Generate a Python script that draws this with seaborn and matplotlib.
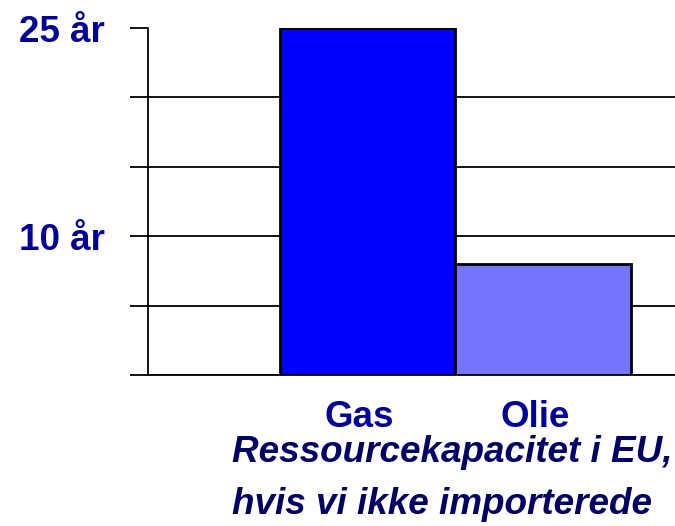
import pandas as pd
import numpy as np
import matplotlib
matplotlib.use("Agg")
import matplotlib.pyplot as plt
import matplotlib.transforms as mtransforms
import seaborn as sns

# Data
kategorier = ["Gas", "Olie"]
aar = [25, 8]
farver = ["#0000FF", "#7575FF"]
y_ticks = [0, 5, 10, 15, 20, 25]
y_labels = ["", "", "10 år", "", "", "25 år"]
undertekst = ["Ressourcekapacitet i EU,", "hvis vi ikke importerede"]

df = pd.DataFrame({"Kategori": kategorier, "Aar": aar})

sns.set_style("white")
plt.rcParams["font.family"] = ["Liberation Sans", "DejaVu Sans"]

fig = plt.figure(figsize=(6.75, 5.26), dpi=100)
ax = fig.add_axes([148 / 675, 1 - 375 / 526, 1 - 148 / 675, (375 - 28) / 526])

sns.barplot(data=df, x="Kategori", y="Aar", hue="Kategori", palette=farver,
            saturation=1, width=1.0, edgecolor="black", linewidth=2.0,
            legend=False, ax=ax, zorder=3)

ax.set_xlim(-1.25, 1.75)
ax.set_ylim(0, 25)
ax.set_yticks(y_ticks)
ax.set_yticklabels(y_labels)
ax.set_xlabel("")
ax.set_ylabel("")

# grid lines (the one at the top is only a tick)
ax.grid(axis="y", color="black", linewidth=1.3, zorder=1)
ax.grid(axis="x", visible=False)
ax.yaxis.get_gridlines()[-1].set_visible(False)

ax.tick_params(axis="y", length=13, width=1.3, color="black", pad=18,
               labelsize=26.5, labelcolor="#00009A", left=True)
ax.tick_params(axis="x", length=0, pad=18, labelsize=26.5, labelcolor="#00009A")
for lab in ax.get_yticklabels() + ax.get_xticklabels():
    lab.set_fontweight("bold")

# category labels sit a little left of the bar centres
skift = mtransforms.ScaledTranslation(-8 / 100, 0, fig.dpi_scale_trans)
for lab in ax.get_xticklabels():
    lab.set_transform(lab.get_transform() + skift)

for side in ["top", "right"]:
    ax.spines[side].set_visible(False)
ax.spines["left"].set_color("black")
ax.spines["left"].set_linewidth(1.3)
ax.spines["bottom"].set_color("black")
ax.spines["bottom"].set_linewidth(1.3)

fig.text(232 / 675, 1 - 452 / 526, undertekst[0], fontsize=26.6, fontweight="bold",
         fontstyle="italic", color="#000066", ha="left", va="center")
fig.text(232 / 675, 1 - 505 / 526, undertekst[1], fontsize=26.6, fontweight="bold",
         fontstyle="italic", color="#000066", ha="left", va="center")

plt.savefig("out.png", dpi=100)
